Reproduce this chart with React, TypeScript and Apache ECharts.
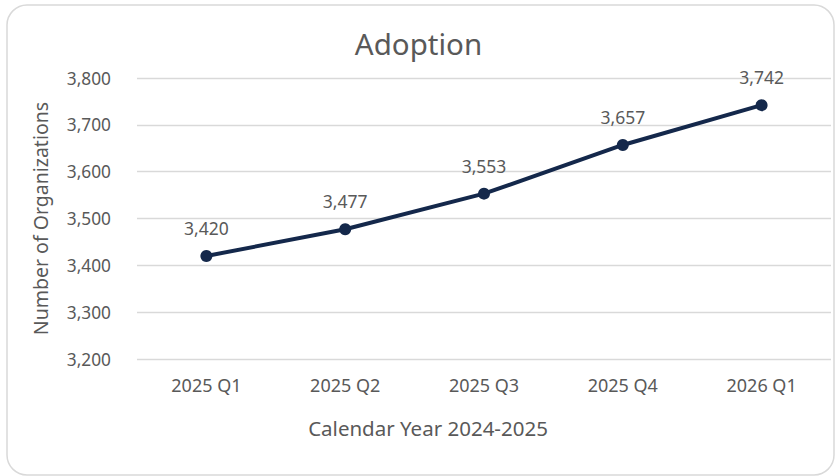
import React, { useEffect, useRef } from "react";
import * as echarts from "echarts";

const categories = ["2025 Q1", "2025 Q2", "2025 Q3", "2025 Q4", "2026 Q1"];
const adoptionValues = [3420, 3477, 3553, 3657, 3742];
const yMin = 3200;
const yMax = 3800;
const yInterval = 100;

const FONT = "'Noto Sans', sans-serif";
const TEXT = "#595959";

export default function App() {
  const ref = useRef<HTMLDivElement>(null);
  useEffect(() => {
    if (!ref.current) return;
    const chart = echarts.init(ref.current, null, { renderer: "svg" });
    chart.setOption({
      animation: false,
      backgroundColor: "#ffffff",
      title: {
        text: "Adoption",
        left: "center",
        top: 23,
        textStyle: { fontFamily: FONT, fontSize: 29.5, fontWeight: "normal", color: TEXT },
      },
      graphic: [
        {
          type: "rect",
          shape: { x: 7, y: 5, width: 827, height: 470, r: 20 },
          style: { fill: "none", stroke: "#d9d9d9", lineWidth: 1.5 },
          silent: true,
          z: -1,
        },
      ],
      grid: { left: 137, right: 6, top: 78, bottom: 117 },
      xAxis: {
        type: "category",
        data: categories,
        boundaryGap: true,
        name: "Calendar Year 2024-2025",
        nameLocation: "middle",
        nameGap: 58,
        nameTextStyle: {
          fontFamily: FONT,
          fontSize: 20.5,
          color: TEXT,
          padding: [0, 112, 0, 0],
        },
        axisLine: { show: false },
        axisTick: { show: false },
        axisLabel: { fontFamily: FONT, fontSize: 18, color: TEXT, margin: 17 },
      },
      yAxis: {
        type: "value",
        min: yMin,
        max: yMax,
        interval: yInterval,
        name: "Number of Organizations",
        nameLocation: "middle",
        nameGap: 87,
        nameTextStyle: { fontFamily: FONT, fontSize: 19.5, color: TEXT },
        axisLine: { show: false },
        axisTick: { show: false },
        axisLabel: {
          fontFamily: FONT,
          fontSize: 17.3,
          color: TEXT,
          margin: 26,
          formatter: (v: number) => v.toLocaleString("en-US"),
        },
        splitLine: { lineStyle: { color: "#d9d9d9", width: 1.3 } },
      },
      series: [
        {
          type: "line",
          data: adoptionValues,
          symbol: "circle",
          symbolSize: 12,
          lineStyle: { color: "#14284b", width: 4 },
          itemStyle: { color: "#14284b" },
          label: {
            show: true,
            position: "top",
            distance: 13,
            fontFamily: FONT,
            fontSize: 17.5,
            color: TEXT,
            formatter: (p: any) => Number(p.value).toLocaleString("en-US"),
          },
        },
      ],
    });
    return () => chart.dispose();
  }, []);
  return (
    <div
      ref={ref}
      style={{ position: "fixed", left: 0, top: 0, width: 837, height: 476 }}
    />
  );
}
